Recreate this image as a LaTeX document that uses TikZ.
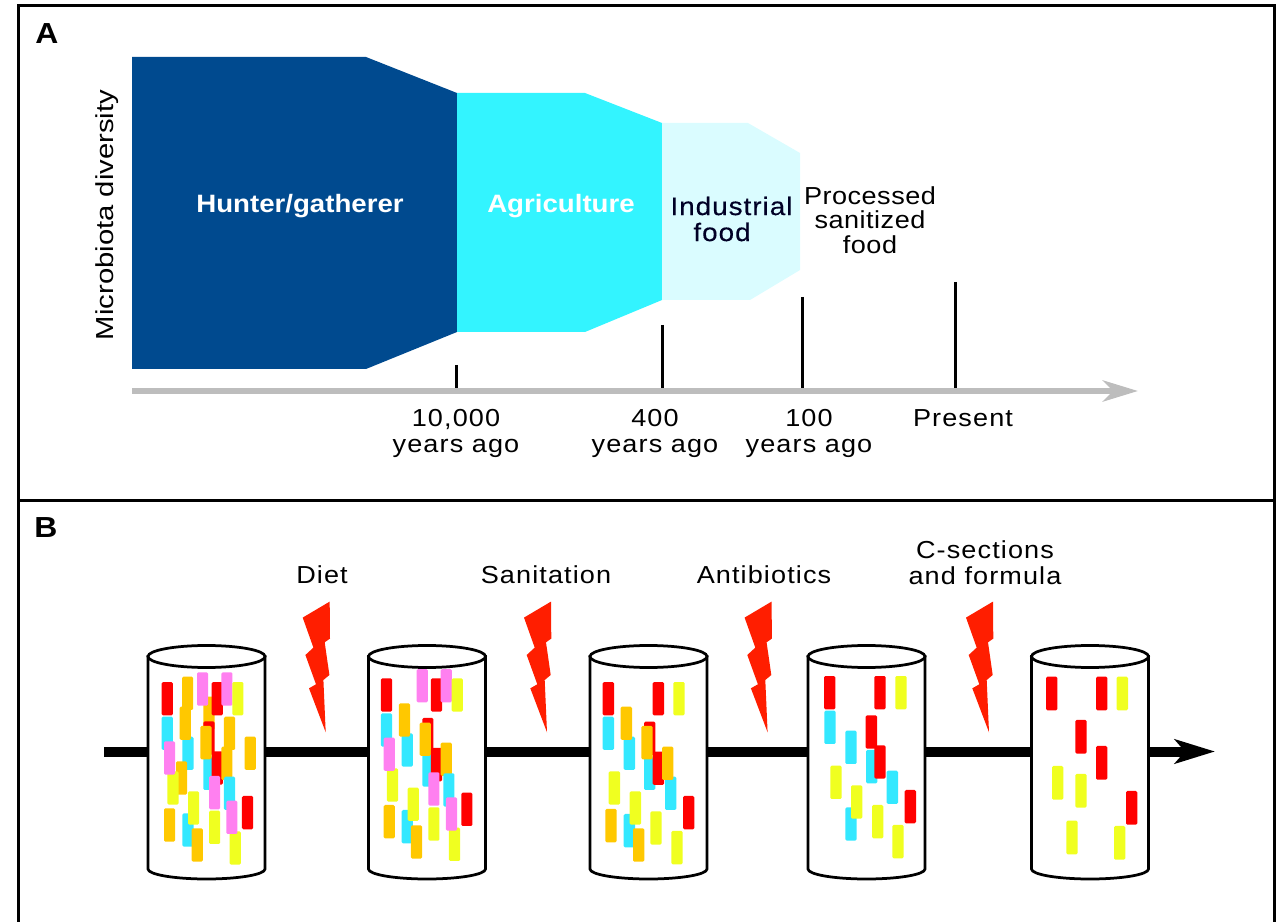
\documentclass[tikz,border=0pt]{standalone}
\usepackage{fontspec}
\setmainfont[FakeStretch=1.1]{Liberation Sans}
\usetikzlibrary{arrows.meta}
\tikzset{
 lab/.style={font=\fontsize{14}{14.8}\selectfont\addfontfeature{LetterSpace=4.5},align=center,inner sep=0pt},
 era/.style={lab,font=\fontsize{14.3}{15}\selectfont\bfseries,text=white},
 panel/.style={black,line width=0.06cm},
 tick/.style={black,line width=0.06cm},
 can/.style={black,line width=0.055cm,fill=white},
 bug/.style={rounded corners=0.8pt},
 bolt/.style={fill=boltcolor}
}
\begin{document}
\begin{tikzpicture}[x=0.02cm,y=-0.02cm]
 \definecolor{huntercolor}{HTML}{004A8F}
 \definecolor{farmcolor}{HTML}{33F4FF}
 \definecolor{factorycolor}{HTML}{DAFCFF}
 \definecolor{timecolor}{HTML}{BDBDBD}
 \definecolor{boltcolor}{HTML}{FF1E00}
 \definecolor{bugred}{HTML}{FF0000}
 \definecolor{bugorange}{HTML}{FFC800}
 \definecolor{bugyellow}{HTML}{F0FF20}
 \definecolor{bugcyan}{HTML}{33E8FF}
 \definecolor{bugpink}{HTML}{FF80F0}
 \useasboundingbox (0,0) rectangle (1276,922);
 \draw [panel] (18.5,922) -- (18.5,5.5) -- (1274,5.5) -- (1274,922);
 \draw [panel] (18.5,500.5) -- (1274,500.5);
 \node [lab,font=\fontsize{16.5}{18}\selectfont\bfseries] (panela) at (47,34) {A};
 \node [lab,font=\fontsize{16.5}{18}\selectfont\bfseries] (panelb) at (46,528) {B};
 \fill [huntercolor] (132,57) -- (366,57) -- (457,93) -- (457,332) -- (366,369) -- (132,369) -- cycle;
 \fill [farmcolor] (457,93) -- (585,93) -- (662,123) -- (662,300) -- (585,332) -- (457,332) -- cycle;
 \fill [factorycolor] (662,123) -- (748,123) -- (800,153) -- (800,270) -- (750,300) -- (662,300) -- cycle;
 \node [era] (hunter) at (300,206) {Hunter/gatherer};
 \node [era] (farm) at (561,206) {Agriculture};
 \node [lab,text=black!85!blue,font=\fontsize{14.4}{15.6}\selectfont\addfontfeature{LetterSpace=4,FakeBold=0.3}] (factory) at (731.5,206) {Industrial};
 \node [lab,text=black!85!blue,font=\fontsize{14.4}{15.6}\selectfont\addfontfeature{LetterSpace=4,FakeBold=0.3}] (factoryfood) at (722,232) {food};
 \node [lab,font=\fontsize{14}{13.9}\selectfont\addfontfeature{LetterSpace=2}] (processed) at (870,220) {Processed\\sanitized\\food};
 \node [lab,rotate=90,font=\fontsize{14}{15}\selectfont\addfontfeature{FakeStretch=1.19}] (diversity) at (107,215) {Microbiota diversity};
 \coordinate (timestart) at (132,391);
 \coordinate (timeend) at (1138,391);
 \coordinate (tenk) at (456,365);
 \coordinate (fourh) at (662,325);
 \coordinate (oneh) at (802,297);
 \coordinate (now) at (955,282);
 \draw [tick] (tenk) -- (tenk |- timestart);
 \draw [tick] (fourh) -- (fourh |- timestart);
 \draw [tick] (oneh) -- (oneh |- timestart);
 \draw [tick] (now) -- (now |- timestart);
 \draw [timecolor,line width=0.12cm,-{Stealth[length=0.7cm,width=0.42cm,inset=0.2cm]}] (timestart) -- (timeend);
 \node [lab] (tenklabel) at (456,433) {10,000\\years ago};
 \node [lab] (fourhlabel) at (655,433) {400\\years ago};
 \node [lab] (onehlabel) at (809,433) {100\\years ago};
 \node [lab] (nowlabel) at (963,418) {Present};
 \node [lab] (diet) at (322,575) {Diet};
 \node [lab] (sanitation) at (546,575) {Sanitation};
 \node [lab] (antibiotics) at (764,575) {Antibiotics};
 \node [lab] (csections) at (985,563) {C-sections\\and formula};
 \coordinate (gutstart) at (104,751.5);
 \coordinate (gutend) at (1215,751.5);
 \draw [black,line width=0.2cm,-{Stealth[length=0.8cm,width=0.48cm,inset=0.2cm]}] (gutstart) -- (gutend);
 \foreach \x in {325.7,547,767.6,989}
  \fill [bolt,shift={(\x,732.3)}] (4,-130.7) -- (-23,-114.7) -- (-12.3,-84.7) -- (-20.3,-77.3) -- (-9.7,-48) -- (-16.7,-44) -- (0,0) -- (-2.3,-52.3) -- (3.7,-57.3) -- (-1,-90) -- (4.3,-93.7) -- cycle;
 \foreach \x in {206.5,427,648.5,866.5,1090}
  \draw [can] (\x-58.5,656.5) -- (\x-58.5,869) arc (180:0:58.5 and 10) -- (\x+58.5,656.5) -- cycle;
 \begin{scope}[shift={(130,640)},scale=1/3]
  \foreach \col/\x/\y in {bugorange/220/170,bugred/220/244,bugcyan/95/230,bugcyan/157/290,bugorange/156/110,bugorange/149/200,bugpink/201/97,bugred/95/126,bugred/245/126,bugpink/274/97,bugyellow/307/126,bugorange/282/230,bugorange/344/290,bugcyan/220/350,bugred/245/334,bugorange/211/258,bugorange/274/320,bugorange/138/364,bugyellow/112/394,bugpink/102/304,bugcyan/282/410,bugpink/237/408,bugcyan/157/520,bugyellow/174/454,bugorange/185/565,bugyellow/237/512,bugyellow/299/574,bugpink/289/482,bugred/336/468,bugorange/102/505}
   \fill [bug,\col] (\x,\y) rectangle ++(33.5,100);
  \foreach \col/\x/\y in {bugcyan/753/220,bugcyan/815/280,bugcyan/877/340,bugred/877/234,bugorange/869/248,bugred/903/324,bugorange/932/308,bugorange/807/190,bugpink/860/87,bugred/903/115,bugpink/932/87,bugyellow/965/115,bugred/753/115,bugyellow/771/385,bugpink/761/293,bugcyan/940/400,bugpink/895/397,bugcyan/815/510,bugyellow/833/443,bugorange/843/556,bugyellow/895/502,bugyellow/957/563,bugpink/948/472,bugred/994/458,bugorange/761/495}
   \fill [bug,\col] (\x,\y) rectangle ++(33.5,100);
 \end{scope}
 \begin{scope}[shift={(570,640)},scale=1/3]
  \foreach \col/\x/\y in {bugred/98/126,bugred/248/126,bugyellow/310/126,bugcyan/98/230,bugcyan/161/290,bugorange/152/200,bugred/222/245,bugcyan/222/350,bugred/248/335,bugorange/214/258,bugcyan/285/410,bugorange/276/320,bugyellow/116/394,bugcyan/161/522,bugyellow/179/454,bugyellow/241/514,bugred/339/468,bugorange/106/507,bugorange/189/565,bugyellow/304/573}
   \fill [bug,\col] (\x,\y) rectangle ++(34,100);
  \foreach \col/\x/\y in {bugred/762/108,bugred/913/108,bugyellow/976/108,bugcyan/763/212,bugcyan/826/272,bugred/887/226,bugcyan/888/330,bugred/913/316,bugyellow/781/377,bugcyan/950/392,bugred/1004/450,bugcyan/826/502,bugyellow/843/436,bugyellow/906/495,bugyellow/967/555}
   \fill [bug,\col] (\x,\y) rectangle ++(34,100);
 \end{scope}
 \begin{scope}[shift={(930,600)},scale=1/3]
  \foreach \col/\x/\y in {bugred/348/230,bugred/498/230,bugyellow/560/230,bugred/436/360,bugred/498/438,bugyellow/366/498,bugyellow/436/522,bugyellow/552/678,bugred/588/573,bugyellow/409/662}
   \fill [bug,\col] (\x,\y) rectangle ++(34,101);
 \end{scope}
 \foreach \x in {206.5,427,648.5,866.5,1090}
  \draw [can] (\x,656.5) ellipse (58.5 and 11);
\end{tikzpicture}
\end{document}
